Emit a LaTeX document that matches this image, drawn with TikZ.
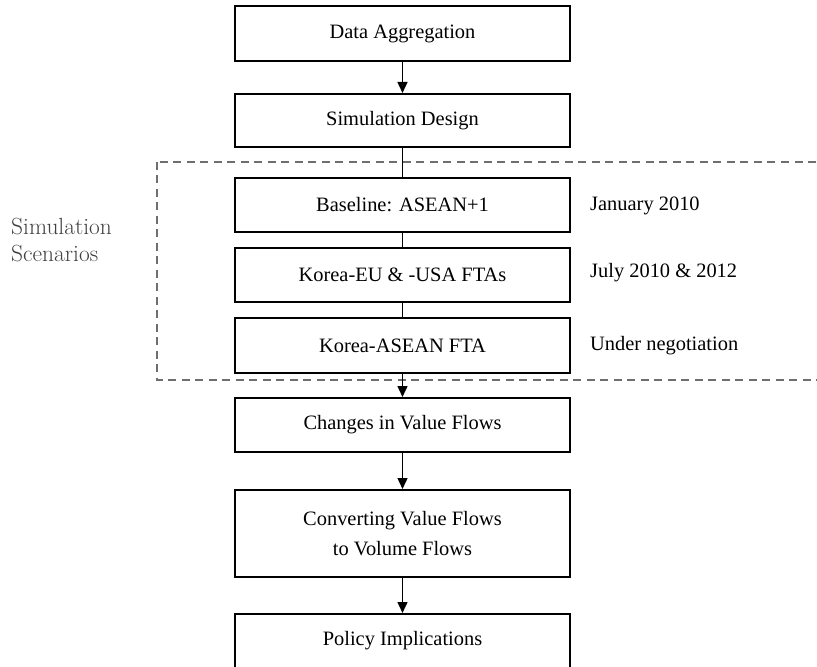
\documentclass[tikz,border=0pt]{standalone}
\usepackage{fontspec}
\setmainfont{Liberation Serif}
\newfontfamily\labelfont{Latin Modern Roman}
\usetikzlibrary{arrows.meta}
\definecolor{dashgray}{HTML}{6E6E6E}
\definecolor{labelgray}{HTML}{404040}
\tikzset{
  stepbox/.style={draw=black, line width=2bp, rectangle, minimum width=335bp,
    minimum height=54bp, inner sep=0pt, align=center, font=\fontsize{20.5}{30}\selectfont},
  note/.style={anchor=west, inner sep=0pt, font=\fontsize{20.5}{24}\selectfont},
  flow/.style={draw=black, line width=1.4bp, -{Triangle[length=11bp,width=10bp]}},
  link/.style={draw=black, line width=1.4bp},
  groupbox/.style={draw=dashgray, line width=2bp, dash pattern=on 8bp off 5.5bp}
}
\begin{document}
\begin{tikzpicture}[x=1bp, y=-1bp]
\useasboundingbox (0,0) rectangle (817,667);
\clip (0,0) rectangle (817,667);

% main column of steps
\node[stepbox, minimum height=55bp] (agg) at (402.5,33.5) {Data Aggregation};
\node[stepbox, minimum height=53bp] (design) at (402.5,120.5) {Simulation Design};
\node[stepbox] (base) at (402.5,205) {Baseline: ASEAN+1};
\node[stepbox] (koreu) at (402.5,275) {Korea-EU \& -USA FTAs};
\node[stepbox, minimum height=55bp] (kasean) at (402.5,345.5) {Korea-ASEAN FTA};
\node[stepbox] (changes) at (402.5,425) {Changes in Value Flows};
\node[stepbox, minimum height=87bp] (convert) at (402.5,533.5) {Converting Value Flows\\to Volume Flows};
\node[stepbox, minimum height=80bp] (policy) at (402.5,654) {};
\node[font=\fontsize{20.5}{24}\selectfont, inner sep=0pt] (policytext) at (402.5,641) {Policy Implications};

% scenario group
\draw[groupbox] (157,161.5) rectangle (835,380);
\node[font=\labelfont\fontsize{23.5}{28}\selectfont, text=labelgray, align=left,
  anchor=west, inner sep=0pt] (scen) at (11,240) {Simulation\\Scenarios};

% scenario dates
\node[note] (d1) at (590,206) {January 2010};
\node[note] (d2) at (590,273) {July 2010 \& 2012};
\node[note] (d3) at (590,346) {Under negotiation};

% connectors
\draw[flow] (agg) -- (design);
\draw[link] (design) -- (base);
\draw[link] (base) -- (koreu);
\draw[link] (koreu) -- (kasean);
\draw[flow] (kasean) -- (changes);
\draw[flow] (changes) -- (convert);
\draw[flow] (convert) -- (policy);
\end{tikzpicture}
\end{document}
